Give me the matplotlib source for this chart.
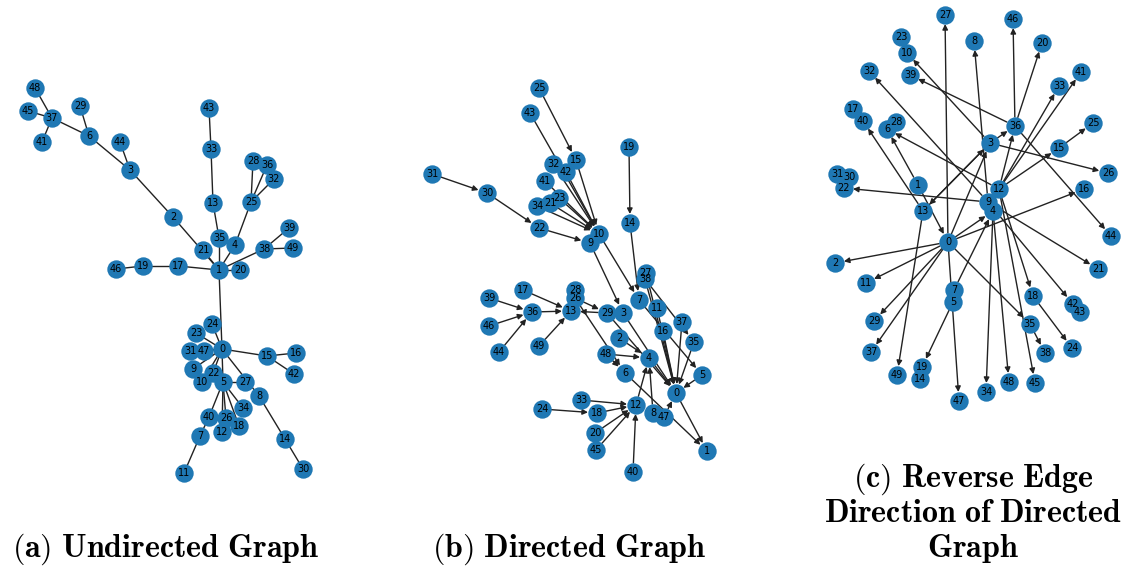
import matplotlib.pyplot as plt
from matplotlib.collections import LineCollection
from matplotlib.patches import FancyArrowPatch

plt.rcParams['mathtext.fontset'] = 'cm'

NODE_COLOR = '#1f78b4'
EDGE_COLOR = '#222222'

# (a) undirected graph: node layout and edges
pos_a = {
    48: (35, 88), 45: (28, 111), 37: (52, 118), 41: (42, 142), 29: (80, 106),
    6: (89, 136), 44: (120, 142), 3: (130, 170), 2: (173, 217), 43: (209, 108),
    33: (211, 149), 13: (213, 203), 28: (253, 161), 36: (267, 165), 32: (274, 179),
    25: (251, 202), 39: (289, 228), 49: (293, 248), 38: (264, 249), 35: (219, 238),
    4: (235, 245), 21: (203, 250), 46: (116, 269), 19: (143, 266), 17: (178, 266),
    1: (219, 270), 20: (240, 270), 24: (212, 324), 23: (196, 333), 0: (222, 349),
    31: (190, 351), 47: (204, 351), 15: (267, 356), 16: (296, 353), 42: (294, 374),
    9: (193, 369), 22: (213, 373), 10: (202, 382), 5: (223, 382), 27: (245, 382),
    8: (259, 396), 34: (243, 408), 40: (209, 417), 26: (226, 418), 18: (239, 426),
    12: (222, 432), 7: (200, 436), 14: (285, 439), 11: (184, 473), 30: (303, 469),
}
edges_a = [
    (48, 37), (45, 37), (41, 37), (37, 6), (29, 6), (6, 3), (44, 3), (3, 2),
    (2, 1), (43, 33), (33, 13), (13, 35), (35, 1), (28, 25), (36, 25), (32, 25),
    (25, 4), (4, 1), (39, 38), (49, 38), (38, 1), (21, 1), (17, 1), (19, 17),
    (46, 19), (20, 1), (1, 0), (0, 24), (0, 23), (0, 47), (0, 31), (0, 9),
    (0, 22), (0, 10), (0, 5), (0, 15), (15, 16), (15, 42), (0, 8), (5, 27),
    (8, 14), (14, 30), (5, 40), (5, 26), (5, 12), (5, 18), (5, 34), (40, 7),
    (7, 11),
]

# (b) directed graph
pos_b = {
    25: (539, 88), 43: (530, 113), 19: (629, 147), 15: (576, 160), 32: (553, 164),
    42: (566, 172), 31: (432, 174), 30: (487, 193), 41: (545, 181), 23: (559, 198),
    21: (550, 203), 34: (537, 206), 22: (539, 228), 14: (630, 223), 10: (599, 234),
    9: (590, 243), 27: (646, 273), 38: (645, 279), 28: (575, 290), 26: (575, 298),
    17: (523, 290), 39: (489, 298), 7: (639, 300), 13: (571, 311), 36: (532, 312),
    11: (657, 308), 29: (607, 313), 3: (623, 313), 46: (489, 326), 37: (682, 322),
    16: (663, 331), 2: (619, 338), 35: (694, 342), 44: (499, 352), 49: (539, 346),
    48: (606, 354), 4: (649, 358), 6: (625, 373), 5: (702, 375), 0: (676, 393),
    33: (581, 400), 12: (636, 405), 24: (542, 409), 18: (597, 413), 8: (653, 413),
    47: (664, 417), 20: (595, 433), 45: (596, 450), 1: (707, 451), 40: (633, 472),
}
edges_b = [
    (31, 30), (30, 22), (22, 9), (25, 15), (15, 10), (43, 10), (32, 10), (42, 10),
    (41, 10), (23, 10), (21, 10), (34, 10), (21, 34), (9, 3), (10, 7), (19, 14),
    (14, 7), (7, 5), (5, 0), (11, 0), (16, 0), (37, 0), (35, 0), (27, 0),
    (38, 0), (38, 35), (4, 0), (2, 4), (3, 0), (29, 0), (48, 4), (12, 4),
    (8, 4), (47, 0), (0, 1), (6, 1), (26, 6), (26, 29), (29, 13), (17, 13),
    (39, 36), (46, 36), (44, 36), (36, 13), (49, 13), (33, 12), (24, 18),
    (18, 12), (20, 12), (45, 12), (40, 12), (48, 6),
]

# (c) reverse edge direction of directed graph
pos_c = {
    27: (945, 15), 46: (1013, 19), 23: (901, 37), 8: (974, 41), 20: (1042, 43),
    10: (907, 53), 32: (869, 71), 39: (910, 75), 41: (1081, 72), 33: (1059, 86),
    17: (853, 109), 40: (863, 121), 28: (896, 122), 6: (887, 129), 36: (1015, 126),
    25: (1093, 123), 3: (990, 143), 15: (1059, 148), 31: (837, 174), 30: (849, 177),
    22: (844, 188), 26: (1108, 173), 1: (918, 185), 12: (999, 189), 16: (1084, 189),
    9: (988, 202), 4: (993, 211), 13: (923, 211), 44: (1111, 236), 0: (948, 242),
    2: (835, 263), 21: (1098, 269), 11: (866, 283), 7: (954, 290), 18: (1033, 296),
    5: (953, 302), 42: (1073, 304), 43: (1080, 312), 29: (874, 321), 35: (1030, 324),
    37: (871, 352), 38: (1045, 353), 24: (1072, 348), 19: (922, 367), 14: (920, 379),
    49: (897, 375), 48: (1009, 382), 45: (1035, 383), 34: (986, 392), 47: (959, 401),
}
edges_c = [
    (0, 27), (3, 36), (36, 46), (36, 20), (36, 39), (36, 44), (3, 10), (9, 32),
    (9, 8), (12, 33), (12, 41), (12, 36), (12, 15), (15, 25), (3, 26), (12, 6),
    (1, 6), (13, 40), (3, 13), (13, 3), (0, 3), (9, 22), (1, 0), (0, 4),
    (7, 4), (0, 16), (0, 2), (0, 11), (0, 29), (0, 37), (0, 35), (0, 47),
    (5, 19), (13, 49), (4, 34), (4, 48), (12, 45), (9, 21), (12, 18), (9, 42),
    (35, 38), (18, 24), (10, 23),
]

# caption lines of each panel (one entry per line)
titles = [
    [r'$\mathbf{(a)\ Undirected\ Graph}$'],
    [r'$\mathbf{(b)\ Directed\ Graph}$'],
    [r'$\mathbf{(c)\ Reverse\ Edge}$',
     r'$\mathbf{Direction\ of\ Directed}$',
     r'$\mathbf{Graph}$'],
]


def dibujar_nodos(ax, pos):
    nodos = list(pos)
    xs = [pos[n][0] for n in nodos]
    ys = [pos[n][1] for n in nodos]
    ax.scatter(xs, ys, s=175, c=NODE_COLOR, zorder=2, linewidths=0)
    for n in nodos:
        ax.text(pos[n][0], pos[n][1], str(n), fontsize=7, ha='center',
                va='center', zorder=3)


def dibujar_no_dirigido(ax, pos, edges):
    segs = [[pos[u], pos[v]] for u, v in edges]
    ax.add_collection(LineCollection(segs, colors=EDGE_COLOR, linewidths=1, zorder=1))
    dibujar_nodos(ax, pos)


def dibujar_dirigido(ax, pos, edges):
    for u, v in edges:
        flecha = FancyArrowPatch(pos[u], pos[v], arrowstyle='-|>',
                                 mutation_scale=8, color=EDGE_COLOR, lw=1,
                                 shrinkA=6.5, shrinkB=6.5, zorder=1)
        ax.add_patch(flecha)
    dibujar_nodos(ax, pos)


fig = plt.figure(figsize=(11.3, 5.68), dpi=100)
W, H = 1130, 568
paneles = [(0, 340), (395, 745), (800, 1130)]
graficos = [(pos_a, edges_a, False), (pos_b, edges_b, True), (pos_c, edges_c, True)]
centros = [166, 569, 973]

for (x0, x1), (pos, edges, dirigido) in zip(paneles, graficos):
    ax = fig.add_axes([x0 / W, 0, (x1 - x0) / W, 1])
    ax.set_xlim(x0, x1)
    ax.set_ylim(H, 0)
    ax.axis('off')
    if dirigido:
        dibujar_dirigido(ax, pos, edges)
    else:
        dibujar_no_dirigido(ax, pos, edges)

# captions, bottom-aligned, 35 px between baselines
for xc, lineas in zip(centros, titles):
    n = len(lineas)
    for i, linea in enumerate(lineas):
        y_base = 557 - 35 * (n - 1 - i)
        fig.text(xc / W, 1 - y_base / H, linea, fontsize=23,
                 ha='center', va='baseline')

fig.savefig('out.png', dpi=100)
